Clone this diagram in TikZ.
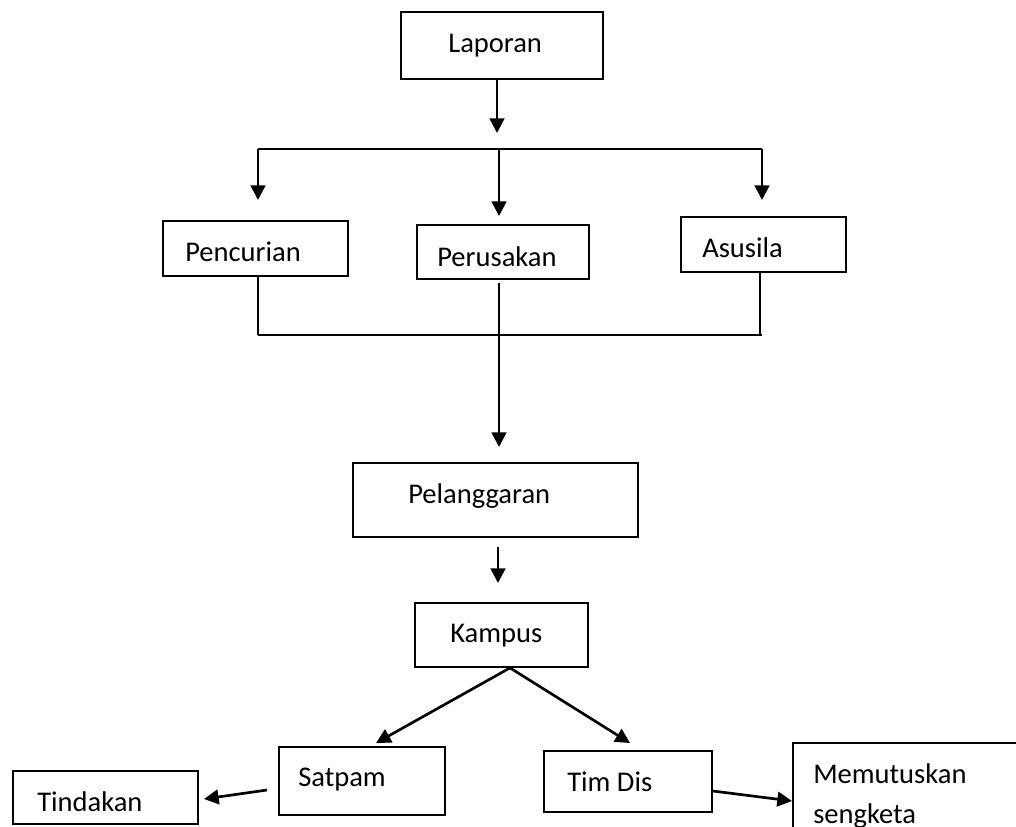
\documentclass[tikz,border=0pt]{standalone}
\usepackage{fontspec}
\setmainfont{Carlito}
\usetikzlibrary{arrows.meta,fit}
\begin{document}
\begin{tikzpicture}[x=0.75pt,y=-0.75pt,
  box/.style={draw,line width=1.3pt,inner sep=0pt},
  lbl/.style={anchor=base west,inner sep=0pt,font=\fontsize{21.4}{25}\selectfont},
  arr/.style={line width=2pt,-{Triangle[length=11pt,width=11pt]}},
  stub/.style={line width=1.1pt},
  bar/.style={line width=1.5pt}]
\useasboundingbox (0,0) rectangle (1016,826);
\fill[white] (0,0) rectangle (1016,826);
\clip (0,0) rectangle (1016,826);
% boxes
\node[box,fit={(401,12) (603,79)}] (laporan) {};
\node[box,fit={(163,221) (348,276)}] (pencurian) {};
\node[box,fit={(417,225) (589,279)}] (perusakan) {};
\node[box,fit={(681,217) (846,272)}] (asusila) {};
\node[box,fit={(353,463) (638,537)}] (pelanggaran) {};
\node[box,fit={(415,603) (588,667)}] (kampus) {};
\node[box,fit={(279,747) (445,815)}] (satpam) {};
\node[box,fit={(13,771) (198,824)}] (tindakan) {};
\node[box,fit={(544,751) (712,812)}] (timdis) {};
\node[box,fit={(793,743) (1040,870)}] (memutuskan) {};
% labels
\node[lbl] (tLaporan) at (448,52) {Laporan};
\node[lbl] (tPencurian) at (185,261) {Pencurian};
\node[lbl] (tPerusakan) at (437,266) {Perusakan};
\node[lbl] (tAsusila) at (702,257) {Asusila};
\node[lbl] (tPelanggaran) at (408,503) {Pelanggaran};
\node[lbl] (tKampus) at (450,642) {Kampus};
\node[lbl] (tSatpam) at (298,786) {Satpam};
\node[lbl] (tTindakan) at (37,811) {Tindakan};
\node[lbl] (tTimdis) at (567,791) {Tim Dis};
\node[lbl] (tMemutuskan) at (813,783) {Memutuskan};
\node[lbl] (tSengketa) at (813,823) {sengketa};
% coordinates
\coordinate (a0) at (497,133);
\coordinate (tl) at (258,149);
\coordinate (tm) at (499,149);
\coordinate (tr) at (762,149);
\coordinate (ap) at (258,200);
\coordinate (am) at (499,216);
\coordinate (ar) at (762,200);
\coordinate (bl) at (258,335);
\coordinate (br) at (762,335);
\coordinate (pa) at (499,447);
\coordinate (k0) at (498,547);
\coordinate (k1) at (498,583);
\coordinate (kx) at (510,667);
\coordinate (sa) at (376,743);
\coordinate (ta) at (630,743);
\coordinate (s0) at (267,790);
\coordinate (s1) at (204,799);
\coordinate (d0) at (712,791);
\coordinate (d1) at (792,801);
% connectors
\draw[arr] (laporan.south -| a0) -- (a0);
\draw[bar] (tl) -- (tr);
\draw[arr] (tl) -- (ap);
\draw[arr] (tm) -- (am);
\draw[arr] (tr) -- (ar);
\draw[stub] (pencurian.south -| bl) -- (bl);
\draw[stub] (asusila.south -| 760,0) -- (760,335);
\draw[bar] (bl) -- (br);
\draw[arr] ([yshift=-2pt]perusakan.south -| pa) -- (pa);
\draw[arr] (k0) -- (k1);
\draw[arr] (kampus.south -| kx) -- (sa);
\draw[arr] (kampus.south -| kx) -- (ta);
\draw[arr] (s0) -- (s1);
\draw[arr] (timdis.east |- d0) -- (d1);
\end{tikzpicture}
\end{document}
